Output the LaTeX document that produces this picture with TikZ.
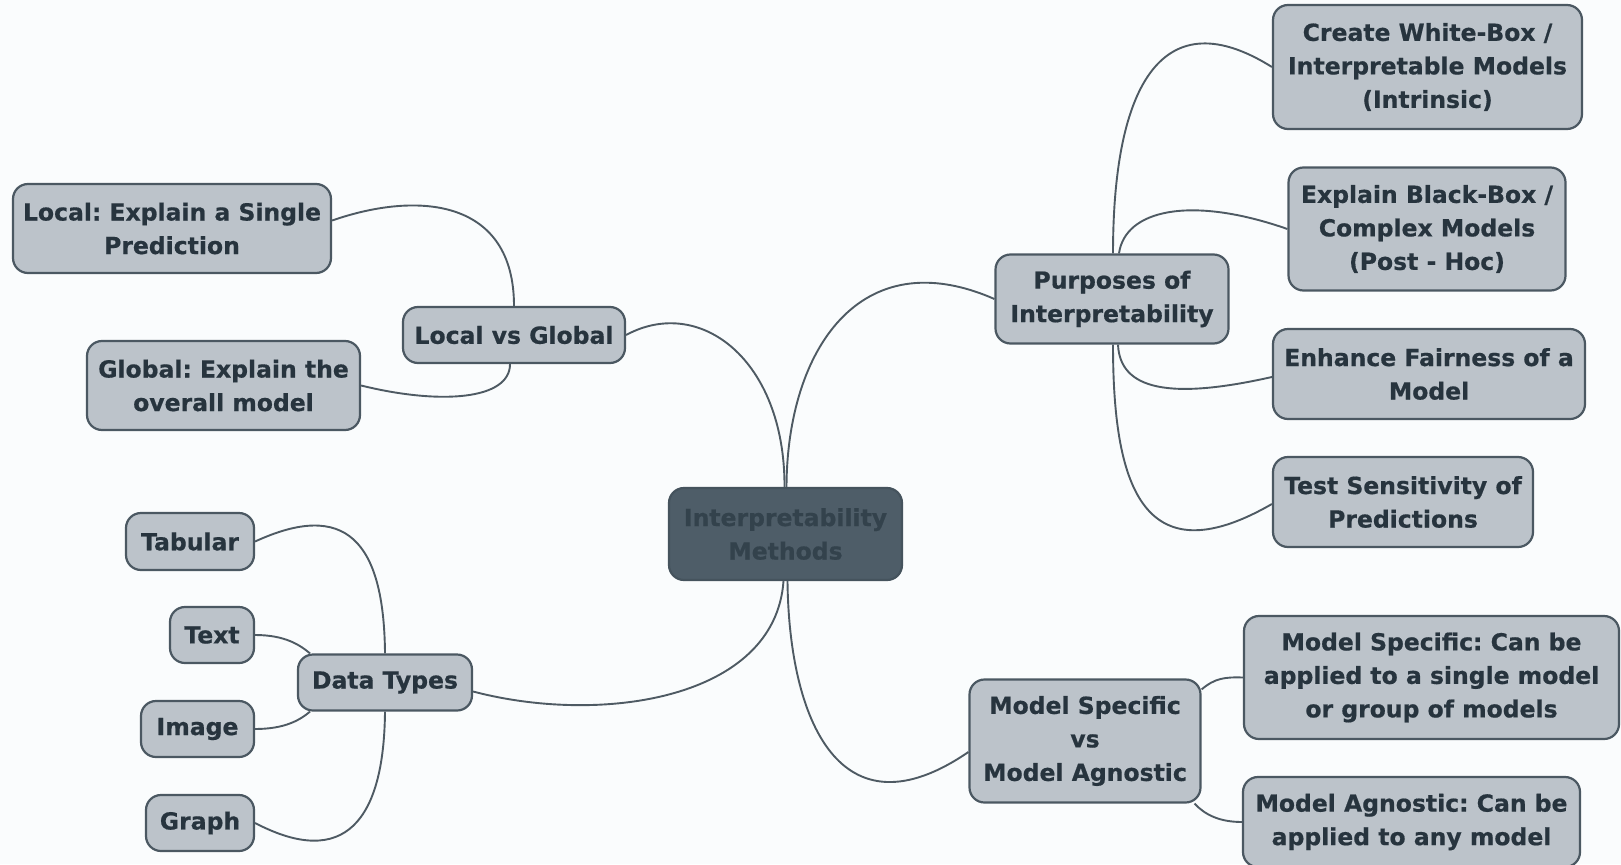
\documentclass[tikz,border=0pt]{standalone}
\usepackage{fontspec}
\setmainfont{DejaVu Sans}[BoldFeatures={FakeBold=0.6}]
\frenchspacing
\definecolor{bg}{HTML}{FAFCFD}
\definecolor{boxfill}{HTML}{BCC3CA}
\definecolor{boxline}{HTML}{4B5862}
\definecolor{ink}{HTML}{27343E}
\definecolor{rootfill}{HTML}{4E5D68}
\definecolor{rootline}{HTML}{45535D}
\definecolor{rootink}{HTML}{33424C}
\definecolor{wirecol}{HTML}{4E5A63}
\tikzset{
  topic/.style={draw=boxline, line width=2.2pt, fill=boxfill, rounded corners=15pt,
    text=ink, font=\bfseries\fontsize{23.5}{33.5}\selectfont, align=center, inner sep=0pt},
  root/.style={topic, fill=rootfill, draw=rootline, text=rootink},
  wire/.style={draw=wirecol, line width=1.9pt},
}
\begin{document}
\begin{tikzpicture}[x=1pt, y=-1pt]
  \fill[bg] (0,0) rectangle (1621,864);
  \useasboundingbox (0,0) rectangle (1621,864);

  % central topic
  \node[root, minimum width=233pt, minimum height=92pt] (root) at (785.5,534) {Interpretability\\Methods};

  % local vs global branch
  \node[topic, minimum width=222pt, minimum height=56pt] (lvg) at (514,335) {Local vs Global};
  \node[topic, minimum width=318pt, minimum height=89pt] (local) at (172,228.5) {Local: Explain a Single\\Prediction};
  \node[topic, minimum width=273pt, minimum height=89pt] (global) at (223.5,385.5) {Global: Explain the\\overall model};

  % data types branch
  \node[topic, minimum width=174pt, minimum height=56pt] (dt) at (385,682.5) {Data Types};
  \node[topic, minimum width=128pt, minimum height=57pt] (tab) at (190,541.5) {Tabular};
  \node[topic, minimum width=84pt, minimum height=56pt] (txt) at (212,635) {Text};
  \node[topic, minimum width=113pt, minimum height=56pt] (img) at (197.5,729) {Image};
  \node[topic, minimum width=108pt, minimum height=56pt] (graph) at (200,823) {Graph};

  % purposes branch
  \node[topic, minimum width=233pt, minimum height=89pt] (purp) at (1112,299) {Purposes of\\Interpretability};
  \node[topic, minimum width=309pt, minimum height=124pt] (create) at (1427.5,67) {Create White-Box /\\Interpretable Models\\(Intrinsic)};
  \node[topic, minimum width=277pt, minimum height=123pt] (explain) at (1427,229) {Explain Black-Box /\\Complex Models\\(Post - Hoc)};
  \node[topic, minimum width=312pt, minimum height=90pt] (fair) at (1429,374) {Enhance Fairness of a\\Model};
  \node[topic, minimum width=260pt, minimum height=90pt] (test) at (1403,502) {Test Sensitivity of\\Predictions};

  % model specific vs agnostic branch
  \node[topic, minimum width=231pt, minimum height=123pt] (msvma) at (1085,741) {Model Specific\\vs\\Model Agnostic};
  \node[topic, minimum width=375pt, minimum height=123pt] (msp) at (1431.5,677.5) {Model Specific: Can be\\applied to a single model\\or group of models};
  \node[topic, minimum width=337pt, minimum height=90pt] (mag) at (1411.5,822) {Model Agnostic: Can be\\applied to any model};

  % connectors from the central topic
  \draw[wire] ([xshift=-1pt]root.north) .. controls (785,360) and (700,295) .. (lvg.east);
  \draw[wire] ([xshift=1pt]root.north) .. controls (787,350) and (860,240) .. (purp.west);
  \draw[wire] ([xshift=-2pt]root.south) .. controls (775,700) and (600,725) .. ([yshift=-9pt]dt.east);
  \draw[wire] ([xshift=2pt]root.south) .. controls (789,720) and (840,840) .. ([yshift=-11pt]msvma.west);

  % local vs global
  \draw[wire] (lvg.north) .. controls (514,200) and (420,190) .. ([yshift=8pt]local.east);
  \draw[wire] ([xshift=-4pt]lvg.south) .. controls (510,400) and (440,405) .. (global.east);

  % purposes
  \draw[wire] ([xshift=1pt]purp.north) .. controls (1113,80) and (1165,0) .. (create.west);
  \draw[wire] ([xshift=7pt]purp.north) .. controls (1125,210) and (1190,195) .. (explain.west);
  \draw[wire] ([xshift=6pt]purp.south) .. controls (1120,390) and (1170,400) .. ([yshift=-3pt]fair.west);
  \draw[wire] ([xshift=1pt]purp.south) .. controls (1113,480) and (1140,580) .. ([yshift=-2pt]test.west);

  % data types
  \draw[wire] (dt.north) .. controls (384,540) and (345,500) .. (tab.east);
  \draw[wire] ([xshift=-75pt]dt.north) .. controls (300,645) and (285,635) .. (txt.east);
  \draw[wire] ([xshift=-75pt]dt.south) .. controls (300,720) and (285,729) .. (img.east);
  \draw[wire] (dt.south) .. controls (384,820) and (345,870) .. (graph.east);

  % model specific vs agnostic
  \draw[wire] ([yshift=-11pt]msvma.north east) .. controls (1215,678) and (1225,677) .. (msp.west);
  \draw[wire] ([xshift=-7pt]msvma.south east) .. controls (1205,815) and (1220,822) .. (mag.west);
\end{tikzpicture}
\end{document}
